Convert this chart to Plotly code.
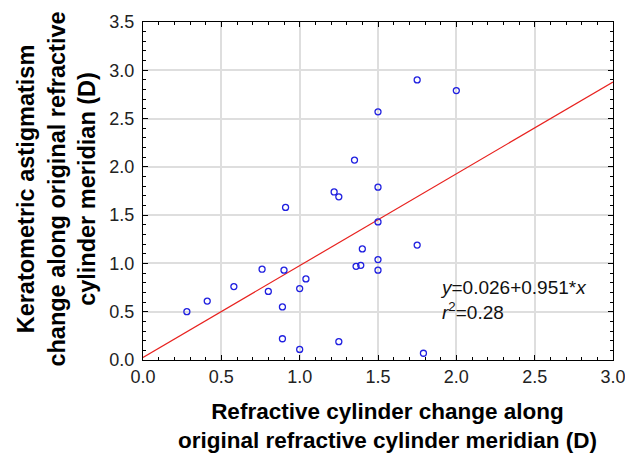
import plotly.graph_objects as go

# Data
refr_cyl = [0.28, 0.41, 0.58, 0.76, 0.80, 0.90, 0.89, 0.89, 0.91, 1.00, 1.00, 1.04,
            1.22, 1.25, 1.25, 1.36, 1.39, 1.40, 1.50, 1.50, 1.50, 1.50, 1.35, 1.50,
            1.75, 2.00, 1.75, 1.79]
kerat_ast = [0.50, 0.61, 0.76, 0.94, 0.71, 0.93, 0.55, 0.22, 1.58, 0.11, 0.74, 0.84,
             1.74, 1.69, 0.19, 0.97, 0.98, 1.15, 1.79, 1.43, 1.04, 0.93, 2.07, 2.57,
             2.90, 2.79, 1.19, 0.07]
intercept = 0.026
slope = 0.951
r2 = 0.28
x_ticks = [0.0, 0.5, 1.0, 1.5, 2.0, 2.5, 3.0]
y_ticks = [0.0, 0.5, 1.0, 1.5, 2.0, 2.5, 3.0, 3.5]

line_x = [0.0, 3.0]
line_y = [intercept + slope * v for v in line_x]

fig = go.Figure()
fig.add_trace(go.Scatter(x=line_x, y=line_y, mode="lines",
                         line=dict(color="#e8221f", width=1.2), showlegend=False))
fig.add_trace(go.Scatter(x=refr_cyl, y=kerat_ast, mode="markers",
                         marker=dict(symbol="circle-open", size=6, color="#2020e0",
                                     line=dict(width=1.3, color="#2020e0")),
                         showlegend=False))

axis_common = dict(
    showline=True, linecolor="black", linewidth=1, mirror="ticks",
    ticks="inside", ticklen=5, tickcolor="black",
    showgrid=True, gridcolor="#dedede", gridwidth=1.5,
    zeroline=False, tickformat=".1f", automargin=False,
    ticklabeloverflow="allow",
    tickfont=dict(family="Arial, Liberation Sans", size=18, color="#222222"),
)

fig.update_xaxes(range=[0, 3.0], tickvals=x_ticks,
                 minor=dict(dtick=0.1, ticks="inside", ticklen=3, tickcolor="black", showgrid=False),
                 **axis_common)
fig.update_yaxes(range=[0, 3.5], tickvals=y_ticks, ticklabelstandoff=4,
                 minor=dict(dtick=0.1, ticks="inside", ticklen=3, tickcolor="black", showgrid=False),
                 **axis_common)

fig.add_annotation(xref="x", yref="y", x=1.885, y=0.62, xanchor="left", yanchor="middle",
                   showarrow=False, align="left",
                   text=f"<i>y</i>={intercept:.3f}+{slope:.3f}*<i>x</i><br><i>r</i><sup>2</sup>={r2:.2f}",
                   font=dict(family="Arial, Liberation Sans", size=19, color="#111111"))

fig.add_annotation(xref="paper", yref="paper", x=0.52, y=-0.194, xanchor="center", yanchor="middle",
                   showarrow=False,
                   text="<b>Refractive cylinder change along<br>original refractive cylinder meridian (D)</b>",
                   font=dict(family="Arial, Liberation Sans", size=22.5, color="black"))
fig.add_annotation(xref="paper", yref="paper", x=-0.1845, y=0.505, xanchor="center", yanchor="middle",
                   showarrow=False, textangle=-90,
                   text="<b>Keratometric astigmatism<br>change along original refractive<br>cylinder meridian (D)</b>",
                   font=dict(family="Arial, Liberation Sans", size=23.5, color="black"))

fig.update_layout(width=625, height=453,
                  margin=dict(l=143, r=12, t=22, b=93),
                  plot_bgcolor="white", paper_bgcolor="white")

fig.write_html("out.html", config={"displayModeBar": False},
               post_script="document.body.style.margin='0';document.body.style.padding='0';document.body.style.overflow='hidden';")
